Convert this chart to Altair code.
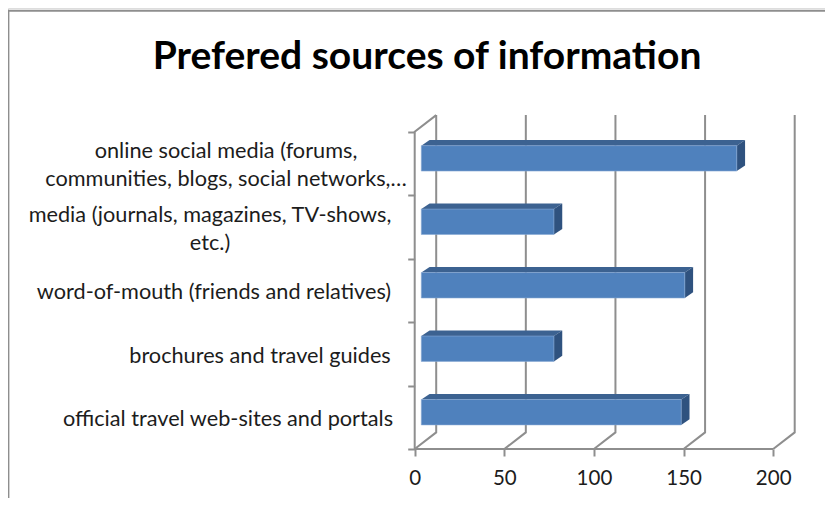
import altair as alt
import pandas as pd

TITLE = "Prefered sources of information"
CATEGORIES = [
    "official travel web-sites and portals",
    "brochures and travel guides",
    "word-of-mouth (friends and relatives)",
    "media (journals, magazines, TV-shows,\netc.)",
    "online social media (forums,\ncommunities, blogs, social networks,…",
]
VALUES = [145, 74, 147, 74, 176]
X_TICKS = [0, 50, 100, 150, 200]

# layout
PX_PER_UNIT = 1.7925
PX_PER_SLOT = 63.46
X0_PAGE, Y0_PAGE = 414.7, 449.0
W, H = 817, 490
LABEL_CENTRES_PAGE = [228, 260, 214, 210, 226]
X_DOMAIN = [(8 - X0_PAGE) / PX_PER_UNIT, (8 + W - X0_PAGE) / PX_PER_UNIT]
Y_DOMAIN = [(Y0_PAGE - 8 - H) / PX_PER_SLOT, (Y0_PAGE - 8) / PX_PER_SLOT]
WALL_DX, WALL_DY = 21.5 / PX_PER_UNIT, 16.6 / PX_PER_SLOT
WALL_TOP = len(CATEGORIES)
BAR_START = 6.6 / PX_PER_UNIT
BAR_CENTRE = 0.58
BAR_HALF = 12.7 / PX_PER_SLOT
BAR_DX, BAR_DY = 8.3 / PX_PER_UNIT, 5.6 / PX_PER_SLOT
FONT = "Lato"
GREY = "#8e8e8e"

xs = alt.Scale(domain=X_DOMAIN, nice=False, zero=False)
ys = alt.Scale(domain=Y_DOMAIN, nice=False, zero=False)

x_axis = alt.Axis(
    values=X_TICKS, offset=-(H + 8 - Y0_PAGE), domain=False, grid=False,
    tickColor=GREY, tickWidth=2, tickSize=7, labelFont=FONT, labelFontSize=20.5,
    labelColor="#1c1c1c", labelPadding=12, labelFlush=False, labelOverlap=False,
    format="d")
y_axis = alt.Axis(
    values=list(range(len(CATEGORIES) + 1)), offset=-(X0_PAGE - 8), domain=False, grid=False,
    labels=False, tickColor=GREY, tickWidth=2, tickSize=7)


def X(f):
    return alt.X(f, type="quantitative", scale=xs, title=None, axis=x_axis)


def Y(f):
    return alt.Y(f, type="quantitative", scale=ys, title=None, axis=y_axis)


# walls and gridlines
wall = []
for t in X_TICKS:
    for n, (a, b) in enumerate([(t, 0), (t + WALL_DX, WALL_DY), (t + WALL_DX, WALL_TOP + WALL_DY)]):
        wall.append(dict(line=f"g{t}", n=n, a=a, b=b))
for n, (a, b) in enumerate([(0 + WALL_DX, WALL_TOP + WALL_DY), (0, WALL_TOP), (0, 0), (X_TICKS[-1], 0)]):
    wall.append(dict(line="frame", n=n, a=a, b=b))
wall_layer = alt.Chart(pd.DataFrame(wall)).mark_line(color=GREY, strokeWidth=2).encode(
    x=X("a"), y=Y("b"), detail="line:N", order="n:Q")

# bars
front, top, side = [], [], []
for i, v in enumerate(VALUES):
    lo, hi = i + BAR_CENTRE - BAR_HALF, i + BAR_CENTRE + BAR_HALF
    l, r = BAR_START, BAR_START + v
    front.append(dict(l=l, r=r, lo=lo, hi=hi))
    top.append(dict(bar=i, y=hi, x1=l, x2=r))
    top.append(dict(bar=i, y=hi + BAR_DY, x1=l + BAR_DX, x2=r + BAR_DX))
    side.append(dict(bar=i, x=r, y1=lo, y2=hi))
    side.append(dict(bar=i, x=r + BAR_DX, y1=lo + BAR_DY, y2=hi + BAR_DY))

top_layer = alt.Chart(pd.DataFrame(top)).mark_area(orient="horizontal", color="#3c6291").encode(
    x=X("x1"), x2="x2:Q", y=Y("y"), detail="bar:N")
side_layer = alt.Chart(pd.DataFrame(side)).mark_area(orient="vertical", color="#2f527f").encode(
    x=X("x"), y=Y("y1"), y2="y2:Q", detail="bar:N")
front_layer = alt.Chart(pd.DataFrame(front)).mark_rect(
    color="#4f81bd", stroke="#86a8d4", strokeWidth=0.6).encode(
    x=X("l"), x2="r:Q", y=Y("lo"), y2="hi:Q")

# category labels
labels = pd.DataFrame({
    "label": CATEGORIES,
    "x": [(c - X0_PAGE) / PX_PER_UNIT for c in LABEL_CENTRES_PAGE],
    "y": [i + 0.471 + c.count("\n") * 0.22 for i, c in enumerate(CATEGORIES)],
})
label_layer = alt.Chart(labels).mark_text(
    font=FONT, fontSize=21.7, color="#1c1c1c", align="center", baseline="middle",
    lineBreak="\n", lineHeight=28).encode(x=X("x"), y=Y("y"), text="label:N")

# outer frame of the picture
frame_top = alt.Chart(pd.DataFrame({"a": [X_DOMAIN[0]], "b": [X_DOMAIN[1]], "y": [(Y0_PAGE - 10.7) / PX_PER_SLOT]})).mark_rule(
    color=GREY, strokeWidth=2).encode(x=X("a"), x2="b:Q", y=Y("y"))
frame_left = alt.Chart(pd.DataFrame({"x": [(8.4 - X0_PAGE) / PX_PER_UNIT], "a": [Y_DOMAIN[0]], "b": [(Y0_PAGE - 10.7) / PX_PER_SLOT]})).mark_rule(
    color=GREY, strokeWidth=2).encode(x=X("x"), y=Y("a"), y2="b:Q")

chart = alt.layer(
    wall_layer, frame_top, frame_left, top_layer, side_layer, front_layer, label_layer
).properties(
    width=W, height=H, padding=0, autosize=alt.AutoSizeParams(type="none"),
    title=alt.TitleParams(TITLE, font=FONT, fontSize=39, fontWeight="bold", color="#000000",
                          anchor="middle", offset=-69, dx=10.5),
).configure_view(strokeWidth=0).configure(background="#ffffff")

chart.save("out.html", embed_options={"renderer": "svg", "actions": False})
